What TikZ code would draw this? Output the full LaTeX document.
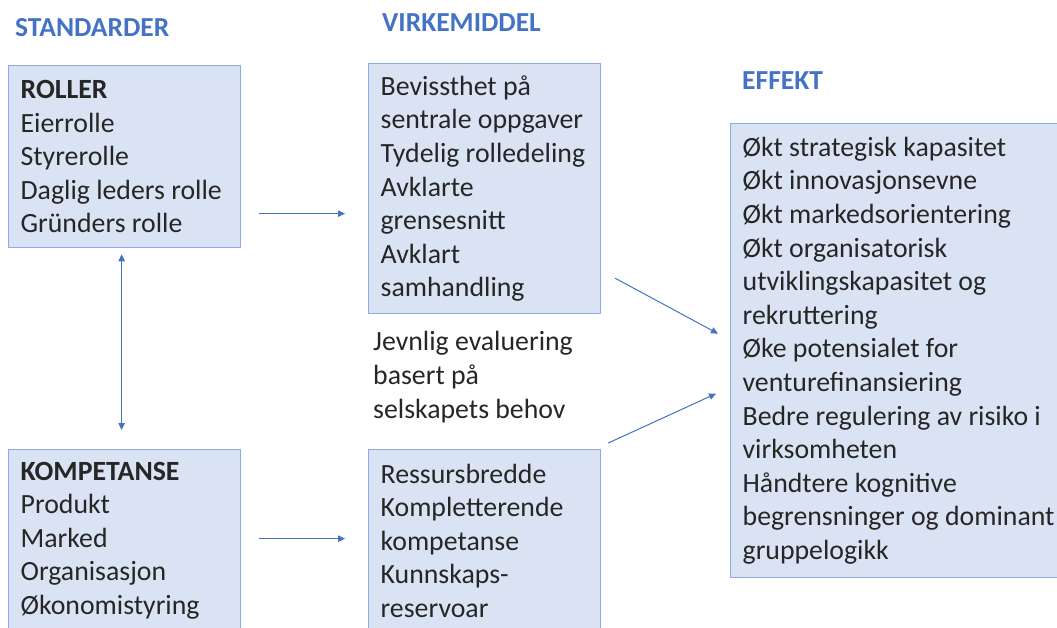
\documentclass[tikz,border=0pt]{standalone}
\usepackage{fontspec}
\setmainfont{Carlito}
\usetikzlibrary{arrows.meta}
\definecolor{tittelblaa}{HTML}{4472C4}
\definecolor{boksfyll}{HTML}{DAE3F3}
\definecolor{boksramme}{HTML}{8FAADC}
\definecolor{tekst}{HTML}{262626}

\begin{document}
\begin{tikzpicture}[x=1pt,y=-1pt,line cap=round,line join=round,
  font=\fontsize{27.8}{33.6}\selectfont,text=tekst,
  tittel/.style={anchor=west,inner sep=0pt,text=tittelblaa,font=\fontsize{27.5}{33.6}\selectfont\bfseries},
  boks/.style={draw=boksramme,fill=boksfyll,line width=1.3pt,anchor=north west,
    align=left,inner xsep=12pt,inner ysep=0pt,text width=208pt,minimum height=182pt,
    execute at begin node={\spaceskip=0pt\xspaceskip=0pt\relax}},
  pil/.style={draw=tittelblaa,line width=1pt,-{Triangle[length=7pt,width=6.5pt]}}]
  \useasboundingbox (0,0) rectangle (1057,628);
  \node[tittel] (standarder) at (15,28) {STANDARDER};
  \node[tittel] (virkemiddel) at (382,22.5) {VIRKEMIDDEL};
  \node[tittel] (effekttittel) at (742,80.5) {EFFEKT};
  \node[boks] (roller) at (8,65) {\textbf{ROLLER}\\Eierrolle\\Styrerolle\\Daglig leders rolle\\Gründers rolle};
  \node[boks] (kompetanse) at (8,449) {\textbf{KOMPETANSE}\\Produkt\\Marked\\Organisasjon\\Økonomistyring};
  \node[boks,minimum height=250pt] (virk) at (368,63) {Bevissthet på\\sentrale oppgaver\\Tydelig rolledeling\\Avklarte\\grensesnitt\\Avklart\\samhandling};
  \node[boks] (ressurs) at (368,449) {Ressursbredde\\Kompletterende\\kompetanse\\Kunnskaps-\\reservoar};
  \node[boks,text width=340pt,minimum height=454pt] (effekt) at (730,123) {Økt strategisk kapasitet\\Økt innovasjonsevne\\Økt markedsorientering\\Økt organisatorisk\\utviklingskapasitet og\\rekruttering\\Øke potensialet for\\venturefinansiering\\Bedre regulering av risiko i\\virksomheten\\Håndtere kognitive\\begrensninger og dominant\\gruppelogikk};
  \node[anchor=west,align=left,inner sep=0pt] (evaluering) at (373,377) {Jevnlig evaluering\\basert på\\selskapets behov};
  \coordinate (r1) at ([shift={(18,57)}]roller.east);
  \coordinate (k1) at ([shift={(18,-2)}]kompetanse.east);
  \draw[pil,shorten >=23pt] (r1) -- (r1 -| virk.west);
  \draw[pil,shorten >=23pt] (k1) -- (k1 -| ressurs.west);
  \draw[pil,{Triangle[length=7pt,width=6.5pt]}-{Triangle[length=7pt,width=6.5pt]},shorten <=6pt,shorten >=19pt]
    ([xshift=-3pt]roller.south) -- ([xshift=-3pt]kompetanse.north);
  \draw[pil] ([shift={(14,-36)}]virk.south east) -- ([shift={(-12,-17)}]effekt.west);
  \draw[pil] ([shift={(7,-6)}]ressurs.north east) -- ([shift={(-14,43)}]effekt.west);
\end{tikzpicture}
\end{document}
